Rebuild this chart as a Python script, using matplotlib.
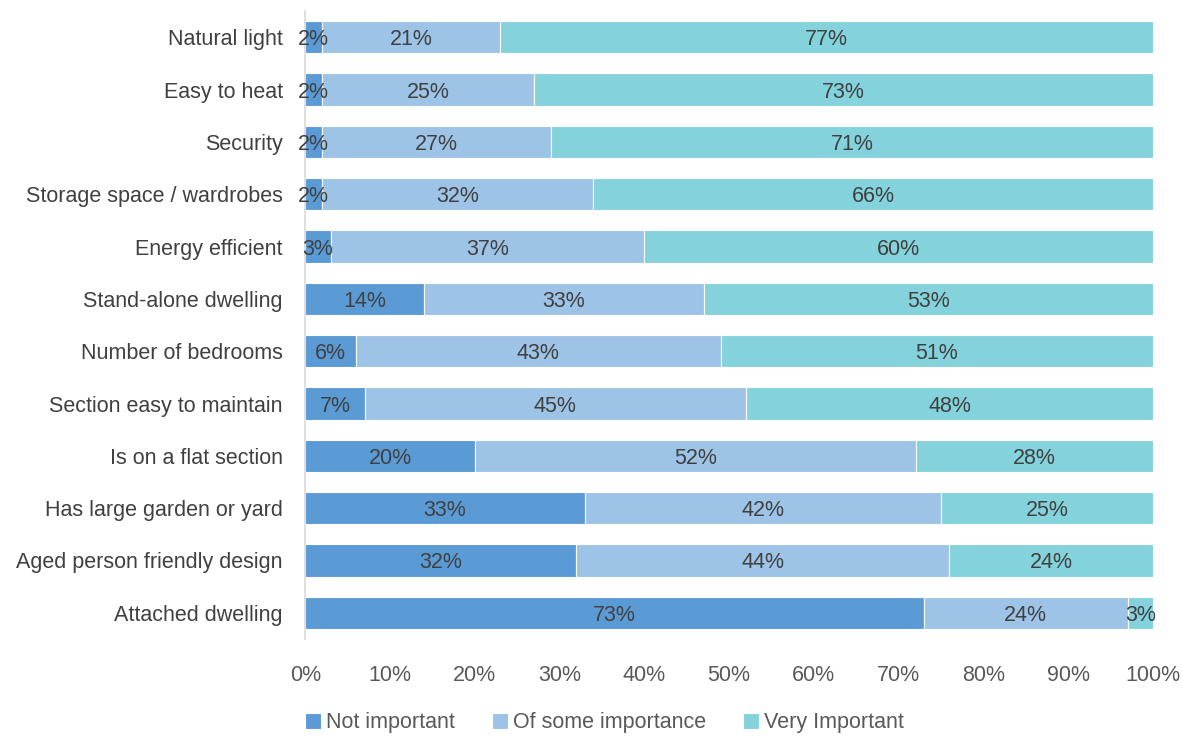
import numpy as np
import matplotlib.pyplot as plt

plt.rcParams['font.family'] = ['Liberation Sans', 'DejaVu Sans']

categories = ['Natural light', 'Easy to heat', 'Security', 'Storage space / wardrobes',
              'Energy efficient', 'Stand-alone dwelling', 'Number of bedrooms',
              'Section easy to maintain', 'Is on a flat section', 'Has large garden or yard',
              'Aged person friendly design', 'Attached dwelling']
not_important = [2, 2, 2, 2, 3, 14, 6, 7, 20, 33, 32, 73]
some_importance = [21, 25, 27, 32, 37, 33, 43, 45, 52, 42, 44, 24]
very_important = [77, 73, 71, 66, 60, 53, 51, 48, 28, 25, 24, 3]

series = [('Not important', not_important, '#5b9bd5'),
          ('Of some importance', some_importance, '#9dc3e6'),
          ('Very Important', very_important, '#83d2dc')]

fs = 15.5
fig = plt.figure(figsize=(11.83, 7.37), dpi=100)
ax = fig.add_axes([0.258, 0.133, 0.7166, 0.852])

y = np.arange(len(categories))
left = np.zeros(len(categories))
for name, vals, color in series:
    vals = np.array(vals, dtype=float)
    bars = ax.barh(y, vals, left=left, height=0.62, color=color, label=name,
                   edgecolor='white', linewidth=0.8)
    for b, v in zip(bars, vals):
        ax.text(b.get_x() + b.get_width() / 2, b.get_y() + b.get_height() / 2,
                f'{int(v)}%', ha='center', va='center_baseline', fontsize=fs, color='#404040')
    left += vals

ax.set_ylim(len(categories) - 0.5, -0.5)
ax.set_xlim(0, 100)
ax.set_yticks(y)
ax.set_yticklabels(categories, fontsize=fs, color='#404040')
ax.set_xticks(np.arange(0, 101, 10))
ax.set_xticklabels([f'{t}%' for t in range(0, 101, 10)], fontsize=fs, color='#595959')
ax.tick_params(axis='both', length=0)
ax.tick_params(axis='x', pad=19)
ax.tick_params(axis='y', pad=16)
for s in ['top', 'right', 'bottom']:
    ax.spines[s].set_visible(False)
ax.spines['left'].set_color('#d9d9d9')
ax.spines['left'].set_linewidth(1.2)

leg = fig.legend(loc='center', bbox_to_anchor=(0.511, 0.019), ncol=3, frameon=False,
                 fontsize=fs, handlelength=0.75, handleheight=0.75, handletextpad=0.25,
                 columnspacing=1.7)
for t in leg.get_texts():
    t.set_color('#595959')

fig.savefig('out.png', dpi=100)
